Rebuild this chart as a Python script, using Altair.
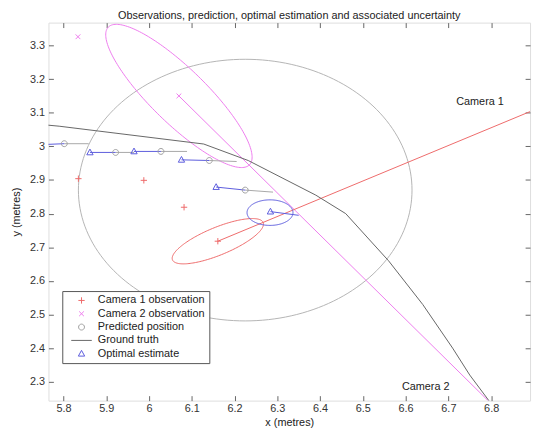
import altair as alt
import numpy as np
import pandas as pd

# ---------------- data ----------------
cam1_x = [5.835, 5.988, 6.082, 6.161]
cam1_y = [2.904, 2.899, 2.819, 2.718]
cam2_x = [5.834, 6.070]
cam2_y = [3.326, 3.150]
pred_x = [5.802, 5.922, 6.028, 6.141, 6.225]
pred_y = [3.008, 2.982, 2.985, 2.958, 2.870]
est_x = [5.862, 5.965, 6.076, 6.157, 6.284]
est_y = [2.982, 2.985, 2.960, 2.879, 2.806]

truth_x = [5.740, 5.790, 6.128, 6.232, 6.390, 6.460, 6.560, 6.640, 6.710, 6.750, 6.800]
truth_y = [3.066, 3.060, 3.007, 2.958, 2.855, 2.800, 2.660, 2.530, 2.400, 2.320, 2.235]

# blue correction segments (previous estimate -> prediction)
blue_x0 = [5.745, 5.862, 5.965, 6.076, 6.157, 6.284]
blue_y0 = [3.005, 2.982, 2.985, 2.960, 2.879, 2.806]
blue_x1 = [5.802, 5.922, 6.028, 6.141, 6.225, 6.350]
blue_y1 = [3.008, 2.982, 2.985, 2.958, 2.870, 2.795]

# thin gray tails from predicted positions
tail_x0 = pred_x
tail_y0 = pred_y
tail_x1 = [5.859, 5.965, 6.089, 6.205, 6.290]
tail_y1 = [3.008, 2.982, 2.985, 2.955, 2.864]

# camera rays
ray1_x = [6.161, 7.000]
ray1_y = [2.718, 3.161]
ray2_x = [6.070, 6.800]
ray2_y = [3.150, 2.235]

# uncertainty ellipses: centre, half-axis vector u, half-axis vector v
ell_pred = dict(c=(6.225, 2.870), u=(0.390, 0.0), v=(0.0, 0.389))
ell_est = dict(c=(6.283, 2.803), u=(0.0537, 0.0), v=(0.0, 0.038))
ell_cam1 = dict(c=(6.161, 2.718), u=(0.106, 0.0557), v=(0.0125, -0.0379))
ell_cam2 = dict(c=(6.070, 3.150), u=(0.1651, -0.2047), v=(0.045, 0.0587))

labels_txt = ["Camera 1", "Camera 2"]
labels_x = [6.774, 6.647]
labels_y = [3.132, 2.283]

series = ["Camera 1 observation", "Camera 2 observation", "Predicted position",
          "Ground truth", "Optimal estimate"]
series_colors = ["#ee6a6a", "#ee7cee", "#a0a0a0", "#666666", "#5b5bdc"]
series_shapes = [
    "M-0.8,0H0.8M0,-0.8V0.8",
    "M-0.6,-0.6L0.6,0.6M-0.6,0.6L0.6,-0.6",
    "M0.75,0A0.75,0.75,0,1,1,-0.75,0A0.75,0.75,0,1,1,0.75,0Z",
    "M-2.6,0H2.6",
    "M0,-0.85L0.8,0.6L-0.8,0.6Z",
]

x_ticks = [5.8, 5.9, 6.0, 6.1, 6.2, 6.3, 6.4, 6.5, 6.6, 6.7, 6.8]
y_ticks = [2.3, 2.4, 2.5, 2.6, 2.7, 2.8, 2.9, 3.0, 3.1, 3.2, 3.3]
x_domain = [5.765, 6.891]
y_domain = [2.244, 3.368]

FONT = "Liberation Sans"

# ---------------- build tables ----------------
def ellipse_df(e, n=181):
    t = np.linspace(0, 2 * np.pi, n)
    cx, cy = e["c"]
    ux, uy = e["u"]
    vx, vy = e["v"]
    return pd.DataFrame({
        "x": cx + ux * np.cos(t) + vx * np.sin(t),
        "y": cy + uy * np.cos(t) + vy * np.sin(t),
        "i": np.arange(n),
    })


def path_df(xs, ys):
    return pd.DataFrame({"x": xs, "y": ys, "i": range(len(xs))})


def seg_df(x0, y0, x1, y1):
    rows = []
    for k, (a, b, c, d) in enumerate(zip(x0, y0, x1, y1)):
        rows.append({"x": a, "y": b, "i": 0, "g": k})
        rows.append({"x": c, "y": d, "i": 1, "g": k})
    return pd.DataFrame(rows)


xs = alt.Scale(domain=x_domain, nice=False, zero=False)
ys = alt.Scale(domain=y_domain, nice=False, zero=False)


def X(axis=None):
    return alt.X("x:Q", scale=xs, axis=axis)


def Y(axis=None):
    return alt.Y("y:Q", scale=ys, axis=axis)


def line_layer(df, color, width=1.0, detail=False):
    enc = dict(x=X(), y=Y(), order="i:Q")
    if detail:
        enc["detail"] = "g:N"
    return alt.Chart(df).mark_line(color=color, strokeWidth=width, clip=True).encode(**enc)


axis_common = dict(tickSize=5, offset=-5, domain=False, grid=False, tickColor="#666",
                   labelColor="#333", labelFontSize=11, labelFont=FONT,
                   titleFont=FONT, titleFontSize=11, titleFontWeight="normal",
                   titleColor="#222")

x_axis = alt.Axis(values=x_ticks, format="~g", title="x (metres)", labelPadding=2,
                  titlePadding=3, **axis_common)
y_axis = alt.Axis(values=y_ticks, format="~g", title="y (metres)", labelPadding=4,
                  titlePadding=8, **axis_common)
x_top = alt.Axis(values=x_ticks, orient="top", labels=False, title=None, tickSize=5,
                 offset=-5, domain=False, grid=False, tickColor="#666")
y_right = alt.Axis(values=y_ticks, orient="right", labels=False, title=None, tickSize=5,
                   offset=-5, domain=False, grid=False, tickColor="#666")

# base layer carries the bottom/left axes
base = alt.Chart(ellipse_df(ell_pred)).mark_line(color="#b4b4b4", strokeWidth=1, clip=True).encode(
    x=X(x_axis), y=Y(y_axis), order="i:Q")

truth_layer = alt.Chart(path_df(truth_x, truth_y)).mark_line(
    color="#666666", strokeWidth=1, clip=True).encode(x=X(x_top), y=Y(y_right), order="i:Q")

layers = [
    base,
    line_layer(ellipse_df(ell_cam2), "#ee7cee"),
    line_layer(path_df(ray2_x, ray2_y), "#ee7cee"),
    line_layer(ellipse_df(ell_cam1), "#ee6a6a"),
    line_layer(path_df(ray1_x, ray1_y), "#ee6a6a"),
    line_layer(ellipse_df(ell_est), "#5b5bdc"),
    line_layer(seg_df(tail_x0, tail_y0, tail_x1, tail_y1), "#a8a8a8", detail=True),
    line_layer(seg_df(blue_x0, blue_y0, blue_x1, blue_y1), "#5b5bdc", detail=True),
    truth_layer,
]

pts = pd.concat([
    pd.DataFrame({"x": cam1_x, "y": cam1_y, "s": series[0]}),
    pd.DataFrame({"x": cam2_x, "y": cam2_y, "s": series[1]}),
    pd.DataFrame({"x": pred_x, "y": pred_y, "s": series[2]}),
    pd.DataFrame({"x": est_x, "y": est_y, "s": series[4]}),
], ignore_index=True)

legend = alt.Legend(title=None, orient="none", legendX=14, legendY=272, direction="vertical",
                    fillColor="white", strokeColor="#555", padding=4, symbolSize=64,
                    symbolStrokeWidth=1, symbolOffset=10, labelOffset=11, labelFontSize=11,
                    labelFont=FONT, labelColor="#222", rowPadding=1.5, cornerRadius=0,
                    symbolFillColor="transparent")

points = alt.Chart(pts).mark_point(filled=False, size=64, strokeWidth=1, opacity=1, clip=True).encode(
    x=X(), y=Y(),
    color=alt.Color("s:N", scale=alt.Scale(domain=series, range=series_colors), legend=legend),
    shape=alt.Shape("s:N", scale=alt.Scale(domain=series, range=series_shapes), legend=legend),
)

texts = alt.Chart(pd.DataFrame({"t": labels_txt, "x": labels_x, "y": labels_y})).mark_text(
    font=FONT, fontSize=11, color="#222").encode(x=X(), y=Y(), text="t:N")

chart = alt.layer(*layers, points, texts).resolve_axis(x="independent", y="independent").properties(
    width=488, height=383,
    title=alt.TitleParams("Observations, prediction, optimal estimation and associated uncertainty",
                          font=FONT, fontSize=11, fontWeight="normal", color="#222", offset=1),
    autosize=alt.AutoSizeParams(type="none"),
    padding={"left": 41, "top": 12, "right": 5, "bottom": 30},
).configure_view(stroke="#777", strokeWidth=1).configure(background="white")

chart.save("out.html", embed_options={"renderer": "svg", "actions": False})
